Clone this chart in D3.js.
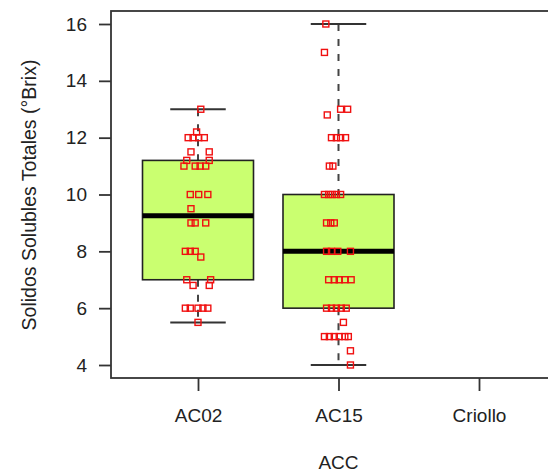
<!DOCTYPE html>
<html>
<head>
<meta charset="utf-8">
<script src="https://cdn.jsdelivr.net/npm/d3@7"></script>
<style>
  body { margin: 0; background: #fff; }
  text { font-family: "Liberation Sans", Arial, sans-serif; fill: #222; }
</style>
</head>
<body>
<div id="chart-area"></div>
<script>
// categories and tick values
var categories = ["AC02", "AC15", "Criollo"];
var yTicks = [4, 6, 8, 10, 12, 14, 16];

// box stats per category (Criollo has none)
var whiskerLow  = [5.5, 4, null];
var q1Values    = [7, 6, null];
var medianValues = [9.25, 8, null];
var q3Values    = [11.2, 10, null];
var whiskerHigh = [13, 16, null];

// raw points and their horizontal jitter (in category units)
var ac02Values = [13, 12.2, 12, 12, 12, 12, 11.5, 11.5, 11.2, 11.2, 11, 11, 11, 11,
    10, 10, 10, 9.5, 9, 9, 9, 8, 8, 8, 7.8, 7, 7, 6.8, 6.8, 6, 6, 6, 6, 6, 5.5];
var ac02Jitter = [0.02, -0.01, -0.07, -0.035, 0.005, 0.045, -0.05, 0.08, -0.08, 0.08,
    -0.10, -0.02, 0.015, 0.055, -0.055, 0.005, 0.07, -0.05, -0.05, -0.02, 0.055,
    -0.09, -0.055, -0.02, 0.02, -0.08, 0.09, -0.035, 0.08, -0.09, -0.055, 0, 0.035, 0.07, 0];

var ac15Values = [16, 15, 13, 13, 12.8, 12, 12, 12, 12, 11, 11, 10, 10, 10, 10, 10,
    9, 9, 9, 8, 8, 8, 8, 7, 7, 7, 7, 7, 6, 6, 6, 6, 6, 5.5, 5, 5, 5, 5, 5, 5, 4.5, 4];
var ac15Jitter = [-0.09, -0.10, 0.015, 0.065, -0.08, -0.05, -0.015, 0.015, 0.05,
    -0.065, -0.04, -0.10, -0.07, -0.045, -0.015, 0.015, -0.085, -0.055, -0.03,
    -0.085, -0.05, -0.005, 0.085, -0.07, -0.03, 0.005, 0.045, 0.09,
    -0.085, -0.05, -0.015, 0.02, 0.055, 0.035, -0.10, -0.065, -0.03, 0.005, 0.045, 0.07,
    0.085, 0.085];

var svgWidth = 548, svgHeight = 474;
var frame = {left: 111, top: 11, bottom: 378};

var svg = d3.select("#chart-area").append("svg")
    .attr("width", svgWidth)
    .attr("height", svgHeight);

var yScale = d3.scaleLinear().domain([4, 16]).range([365, 24]);
var xScale = d3.scalePoint().domain(categories).range([198, 479]);
var xIndex = d3.scaleLinear().domain([0, 2]).range([198, 479]);
var step = xScale.step();
var boxHalf = step * 0.395;
var capHalf = boxHalf / 2;

// plot frame (right side runs off the picture)
svg.append("rect")
    .attr("x", frame.left).attr("y", frame.top)
    .attr("width", 480).attr("height", frame.bottom - frame.top)
    .attr("fill", "none").attr("stroke", "#333").attr("stroke-width", 1.8);

// y axis
var leftAxis = d3.axisLeft(yScale).tickValues(yTicks).tickSize(12).tickSizeOuter(0).tickPadding(12);
var yAxis = svg.append("g").attr("transform", "translate(" + frame.left + ",0)").call(leftAxis);
yAxis.select(".domain").remove();
yAxis.selectAll("line").attr("stroke", "#333").attr("stroke-width", 1.8);
yAxis.selectAll("text").attr("font-size", "19px").attr("font-family", "Liberation Sans, Arial, sans-serif").attr("fill", "#222");

// x axis
var botAxis = d3.axisBottom(xScale).tickSize(13).tickSizeOuter(0).tickPadding(17.5);
var xAxis = svg.append("g").attr("transform", "translate(0," + frame.bottom + ")").call(botAxis);
xAxis.select(".domain").remove();
xAxis.selectAll("line").attr("stroke", "#333").attr("stroke-width", 1.8);
xAxis.selectAll("text").attr("font-size", "19px").attr("font-family", "Liberation Sans, Arial, sans-serif").attr("fill", "#222");

// axis titles
svg.append("text")
    .attr("transform", "translate(36,195) rotate(-90)")
    .attr("text-anchor", "middle")
    .attr("font-size", "19.5px")
    .text("Solidos Solubles Totales (°Brix)");

svg.append("text")
    .attr("x", xScale("AC15")).attr("y", 469)
    .attr("text-anchor", "middle")
    .attr("font-size", "19px")
    .text("ACC");

// boxes
var stats = categories.map(function(c, i) {
    return {cat: c, lo: whiskerLow[i], q1: q1Values[i], med: medianValues[i], q3: q3Values[i], hi: whiskerHigh[i]};
}).filter(function(d) { return d.med != null; });

var boxes = svg.selectAll(".box").data(stats).enter().append("g").attr("class", "box");

// whiskers (dashed)
boxes.append("line")
    .attr("x1", d => xScale(d.cat)).attr("x2", d => xScale(d.cat))
    .attr("y1", d => yScale(d.hi)).attr("y2", d => yScale(d.q3))
    .attr("stroke", "#444").attr("stroke-width", 2).attr("stroke-dasharray", "7,8");
boxes.append("line")
    .attr("x1", d => xScale(d.cat)).attr("x2", d => xScale(d.cat))
    .attr("y1", d => yScale(d.q1)).attr("y2", d => yScale(d.lo))
    .attr("stroke", "#444").attr("stroke-width", 2).attr("stroke-dasharray", "7,8");

// caps
["hi", "lo"].forEach(function(k) {
    boxes.append("line")
        .attr("x1", d => xScale(d.cat) - capHalf).attr("x2", d => xScale(d.cat) + capHalf)
        .attr("y1", d => yScale(d[k])).attr("y2", d => yScale(d[k]))
        .attr("stroke", "#333").attr("stroke-width", 2);
});

boxes.append("rect")
    .attr("x", d => xScale(d.cat) - boxHalf)
    .attr("width", boxHalf * 2)
    .attr("y", d => yScale(d.q3))
    .attr("height", d => yScale(d.q1) - yScale(d.q3))
    .attr("fill", "#caff70")
    .attr("stroke", "#222").attr("stroke-width", 1.6);

boxes.append("line")
    .attr("x1", d => xScale(d.cat) - boxHalf).attr("x2", d => xScale(d.cat) + boxHalf)
    .attr("y1", d => yScale(d.med)).attr("y2", d => yScale(d.med))
    .attr("stroke", "#000").attr("stroke-width", 5);

// jittered points
var points = [];
ac02Values.forEach(function(v, i) { points.push({idx: 0, val: v, jit: ac02Jitter[i]}); });
ac15Values.forEach(function(v, i) { points.push({idx: 1, val: v, jit: ac15Jitter[i]}); });

var sq = 6;
svg.selectAll(".pt").data(points).enter().append("rect")
    .attr("class", "pt")
    .attr("x", d => xIndex(d.idx + d.jit) - sq / 2)
    .attr("y", d => yScale(d.val) - sq / 2)
    .attr("width", sq).attr("height", sq)
    .attr("fill", "none")
    .attr("stroke", "#f01010").attr("stroke-width", 1.4);
</script>
</body>
</html>
